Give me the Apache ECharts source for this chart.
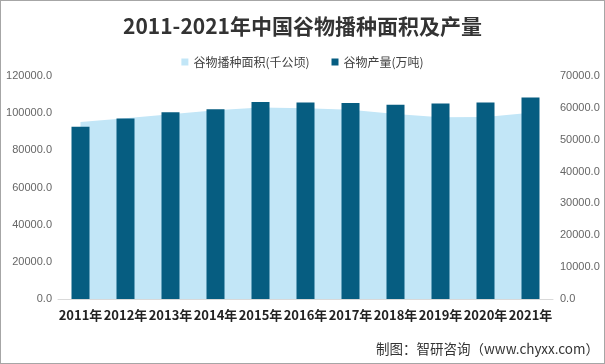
<!DOCTYPE html>
<html><head><meta charset="utf-8">
<script src="https://cdn.jsdelivr.net/npm/echarts@6/dist/echarts.min.js"></script>
<style>
html,body{margin:0;padding:0;background:#fff;}
#c{width:603px;height:362px;border:1px solid #a6a6a6;}
</style></head>
<body><div id="c"></div>
<script>
const categories = ['2011年','2012年','2013年','2014年','2015年','2016年','2017年','2018年','2019年','2020年','2021年'];
const areaValues = [95200, 97200, 99400, 101600, 103000, 102700, 101800, 99600, 97850, 97960, 100180];
const outputValues = [54062, 56659, 58650, 59602, 61818, 61667, 61521, 61004, 61370, 61674, 63276];
const leftTicks = [0, 120000, 20000];
const rightTicks = [0, 70000, 10000];

const chart = echarts.init(document.getElementById('c'));
chart.setOption({
  animation: false,
  title: {
    text: '2011-2021年中国谷物播种面积及产量',
    left: 'center', top: 10,
    textStyle: {fontFamily: 'Noto Sans CJK SC', fontWeight: 'bold', fontSize: 21, color: '#333'}
  },
  legend: {
    top: 50, left: 'center', itemWidth: 7, itemHeight: 7, itemGap: 22,
    textStyle: {fontFamily: 'Noto Sans CJK SC', fontSize: 12, color: '#404040'},
    data: [{name: '谷物播种面积(千公顷)', icon: 'rect'}, {name: '谷物产量(万吨)', icon: 'rect'}]
  },
  graphic: [{
    type: 'text', right: 5, top: 341,
    style: {text: '制图：智研咨询（www.chyxx.com）', font: '13.5px "Noto Sans CJK SC"', fill: '#333'}
  }],
  grid: {left: 57, right: 51, top: 75, bottom: 64},
  xAxis: {
    type: 'category', data: categories,
    axisLine: {lineStyle: {color: '#d9d9d9'}},
    axisTick: {show: false},
    axisLabel: {interval: 0, fontFamily: 'Noto Sans CJK SC', fontWeight: 'bold', fontSize: 13, color: '#222', margin: 10}
  },
  yAxis: [{
    type: 'value', min: leftTicks[0], max: leftTicks[1], interval: leftTicks[2],
    splitLine: {show: false}, axisLine: {show: false}, axisTick: {show: false},
    axisLabel: {formatter: v => v.toFixed(1), fontFamily: 'Liberation Sans', fontSize: 11, color: '#666', margin: 6}
  }, {
    type: 'value', min: rightTicks[0], max: rightTicks[1], interval: rightTicks[2],
    splitLine: {show: false}, axisLine: {show: false}, axisTick: {show: false},
    axisLabel: {formatter: v => v.toFixed(1), fontFamily: 'Liberation Sans', fontSize: 11, color: '#666', margin: 7}
  }],
  series: [{
    name: '谷物播种面积(千公顷)', type: 'line', yAxisIndex: 0, data: areaValues,
    symbol: 'none', lineStyle: {width: 0}, itemStyle: {color: '#c2e6f7'},
    areaStyle: {color: '#c2e6f7', opacity: 1}, z: 1
  }, {
    name: '谷物产量(万吨)', type: 'bar', yAxisIndex: 1, data: outputValues,
    barWidth: 18, itemStyle: {color: '#065d81'}, z: 2
  }]
});
</script></body></html>
